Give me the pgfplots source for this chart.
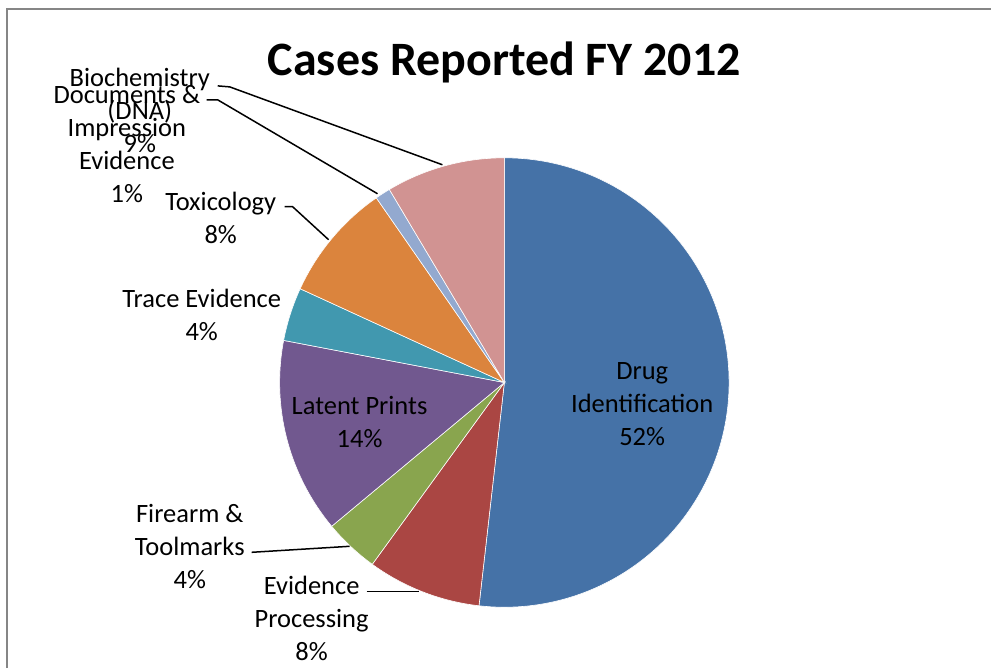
\documentclass[border=0pt]{standalone}
\usepackage{pgfplots}
\usepackage{pgfplotstable}
\pgfplotsset{compat=1.18}
\usepackage{fontspec}
\setmainfont{Carlito}
\definecolor{cDrug}{HTML}{4572A7}
\definecolor{cEvid}{HTML}{AA4643}
\definecolor{cFire}{HTML}{89A54E}
\definecolor{cLat}{HTML}{71588F}
\definecolor{cTrace}{HTML}{4198AF}
\definecolor{cTox}{HTML}{DB843D}
\definecolor{cDoc}{HTML}{93A9CF}
\definecolor{cBio}{HTML}{D19392}
\definecolor{frame}{HTML}{868686}
\pgfplotstableread{
value color
51.8 cDrug
8.2 cEvid
3.95 cFire
14.05 cLat
3.85 cTrace
8.5 cTox
1.1 cDoc
8.55 cBio
}\piedata
\begin{document}
\begin{tikzpicture}
\begin{axis}[x=1bp,y=1bp,xmin=0,xmax=992,ymin=0,ymax=669,hide axis,clip=false,
  scale only axis]
\path (axis cs:0,0) rectangle (axis cs:992,669);
\def\astart{90}
\pgfplotsforeachungrouped \i in {0,...,7}{%
  \pgfplotstablegetelem{\i}{value}\of\piedata \let\pv\pgfplotsretval
  \pgfplotstablegetelem{\i}{color}\of\piedata \let\pc\pgfplotsretval
  \pgfmathsetmacro\aend{\astart-3.6*\pv}%
  \pgfmathsetmacro\xs{505+225*cos(\astart)}%
  \pgfmathsetmacro\ys{286+225*sin(\astart)}%
  \edef\temp{\noexpand\fill[\pc, draw=white, line width=0.6bp] (axis cs:505,286) -- (axis cs:\xs,\ys) arc[start angle=\astart, end angle=\aend, radius=225bp] -- cycle;}%
  \temp
  \global\let\astart\aend
}
% frame
\draw[frame, line width=2.5bp] (axis cs:7,0) -- (axis cs:7,660) -- (axis cs:992,660);
% title
\node[font=\fontsize{48bp}{56bp}\selectfont\bfseries] at (axis cs:505,606) {Cases Reported FY 2012};
% leader lines
\draw[black, line width=1.5bp] (axis cs:218,583) -- (axis cs:230,582) -- (axis cs:443,504);
\draw[black, line width=1.5bp] (axis cs:207,569) -- (axis cs:218,569) -- (axis cs:378,475);
\draw[black, line width=1.5bp] (axis cs:285,462) -- (axis cs:293,462) -- (axis cs:329,429);
\draw[black, line width=1.5bp] (axis cs:252,116) -- (axis cs:350,122);
\draw[black, line width=1.5bp] (axis cs:367,77) -- (axis cs:420,77);
% labels
\tikzset{lab/.style={font=\fontsize{26.5bp}{33bp}\selectfont, align=center, inner sep=0pt, text=black}}
\node[lab] at (axis cs:643,264) {Drug\\Identification\\52\%};
\node[lab] at (axis cs:360,246) {Latent Prints\\14\%};
\node[lab] at (axis cs:202,354) {Trace Evidence\\4\%};
\node[lab] at (axis cs:221,451) {Toxicology\\8\%};
\node[lab] at (axis cs:127,525) {Documents \&\\Impression\\Evidence\\1\%};
\node[lab] at (axis cs:140,558) {Biochemistry\\(DNA)\\9\%};
\node[lab] at (axis cs:190,122) {Firearm \&\\Toolmarks\\4\%};
\node[lab] at (axis cs:312,50) {Evidence\\Processing\\8\%};
\end{axis}
\end{tikzpicture}
\end{document}
